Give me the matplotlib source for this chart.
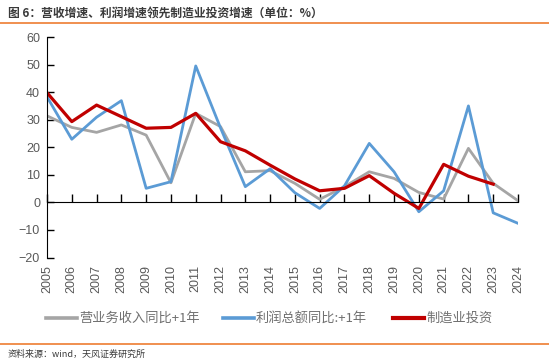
import matplotlib.pyplot as plt
import matplotlib.transforms as mtransforms

plt.rcParams['font.family'] = ['Liberation Sans', 'Noto Sans CJK SC', 'DejaVu Sans']

years = [str(y) for y in range(2005, 2025)]

revenue = [31.4, 27.2, 25.4, 28.1, 24.4, 7.1, 32.3, 27.5, 11.1, 11.5,
           6.9, 1.1, 5.7, 11.1, 8.7, 3.6, 1.2, 19.6, 6.9, 0.6]
profit = [38.3, 22.9, 30.9, 36.9, 5.1, 7.5, 49.5, 27.0, 5.7, 12.2,
          3.5, -2.2, 6.0, 21.4, 11.1, -3.4, 4.2, 35.0, -3.8, -7.6]
invest = [39.8, 29.3, 35.3, 31.1, 26.9, 27.2, 32.3, 22.0, 18.7, 13.5,
          8.5, 4.2, 5.1, 9.7, 3.3, -2.2, 13.8, 9.5, 6.6]

labels = ["营业务收入同比+1年", "利润总额同比:+1年", "制造业投资"]
colors = ['#A5A5A5', '#5B9BD5', '#C00000']

W, H = 549, 362
fig = plt.figure(figsize=(W / 100, H / 100), dpi=100)
cjk = ['Noto Sans CJK SC', 'DejaVu Sans']

# title and orange rules
fig.text(8 / W, 1 - 13 / H, "图 6：营收增速、利润增速领先制造业投资增速（单位：%）",
         fontsize=8.5, fontweight='bold', color='#3a3a3a', family=cjk, va='center')
fig.add_artist(plt.Line2D([0, 1], [1 - 22.5 / H] * 2, color='#ED7D31', lw=1.2))
fig.add_artist(plt.Line2D([0, 1], [1 - 344 / H] * 2, color='#ED7D31', lw=1.2))
fig.text(8 / W, 1 - 354 / H, "资料来源：wind，天风证券研究所", fontsize=6.5,
         color='#3a3a3a', family=cjk, va='center')

ax = fig.add_axes([47 / W, 1 - 257.5 / H, 471 / W, 220.5 / H])
x = list(range(len(years)))
ax.plot(x, revenue, color=colors[0], lw=2.0)
ax.plot(x, profit, color=colors[1], lw=2.0)
ax.plot(x[:len(invest)], invest, color=colors[2], lw=2.3)

ax.set_xlim(0, len(years) - 1)
ax.set_ylim(-20, 60)
ax.set_yticks(range(-20, 61, 10))
ax.tick_params(axis='y', direction='in', length=5, width=1, colors='black',
               labelcolor='#595959', labelsize=9, pad=5)

for s in ['top', 'right']:
    ax.spines[s].set_visible(False)
ax.spines['left'].set_color('black')
ax.spines['bottom'].set_position(('data', 0))
ax.spines['bottom'].set_color('black')
ax.set_xticks(x)
ax.tick_params(axis='x', direction='in', length=6, width=1, labelbottom=False)

trans = mtransforms.blended_transform_factory(ax.transData, ax.transAxes)
for i, yr in enumerate(years):
    ax.text(i, -0.035, yr, transform=trans, rotation=90, ha='center', va='top',
            fontsize=9, color='#595959')

# legend drawn by hand to follow the wide spacing of the original
leg_y = 1 - 318 / H
starts = [46, 223, 393]
for lab, col, x0 in zip(labels, colors, starts):
    fig.add_artist(plt.Line2D([x0 / W, (x0 + 31) / W], [leg_y, leg_y], color=col,
                              lw=3.0 if col == '#C00000' else 2.6))
    fig.text((x0 + 33) / W, leg_y, lab, fontsize=9.5, color='#707070', family=cjk,
             va='center', ha='left')

fig.savefig('out.png', dpi=100)
